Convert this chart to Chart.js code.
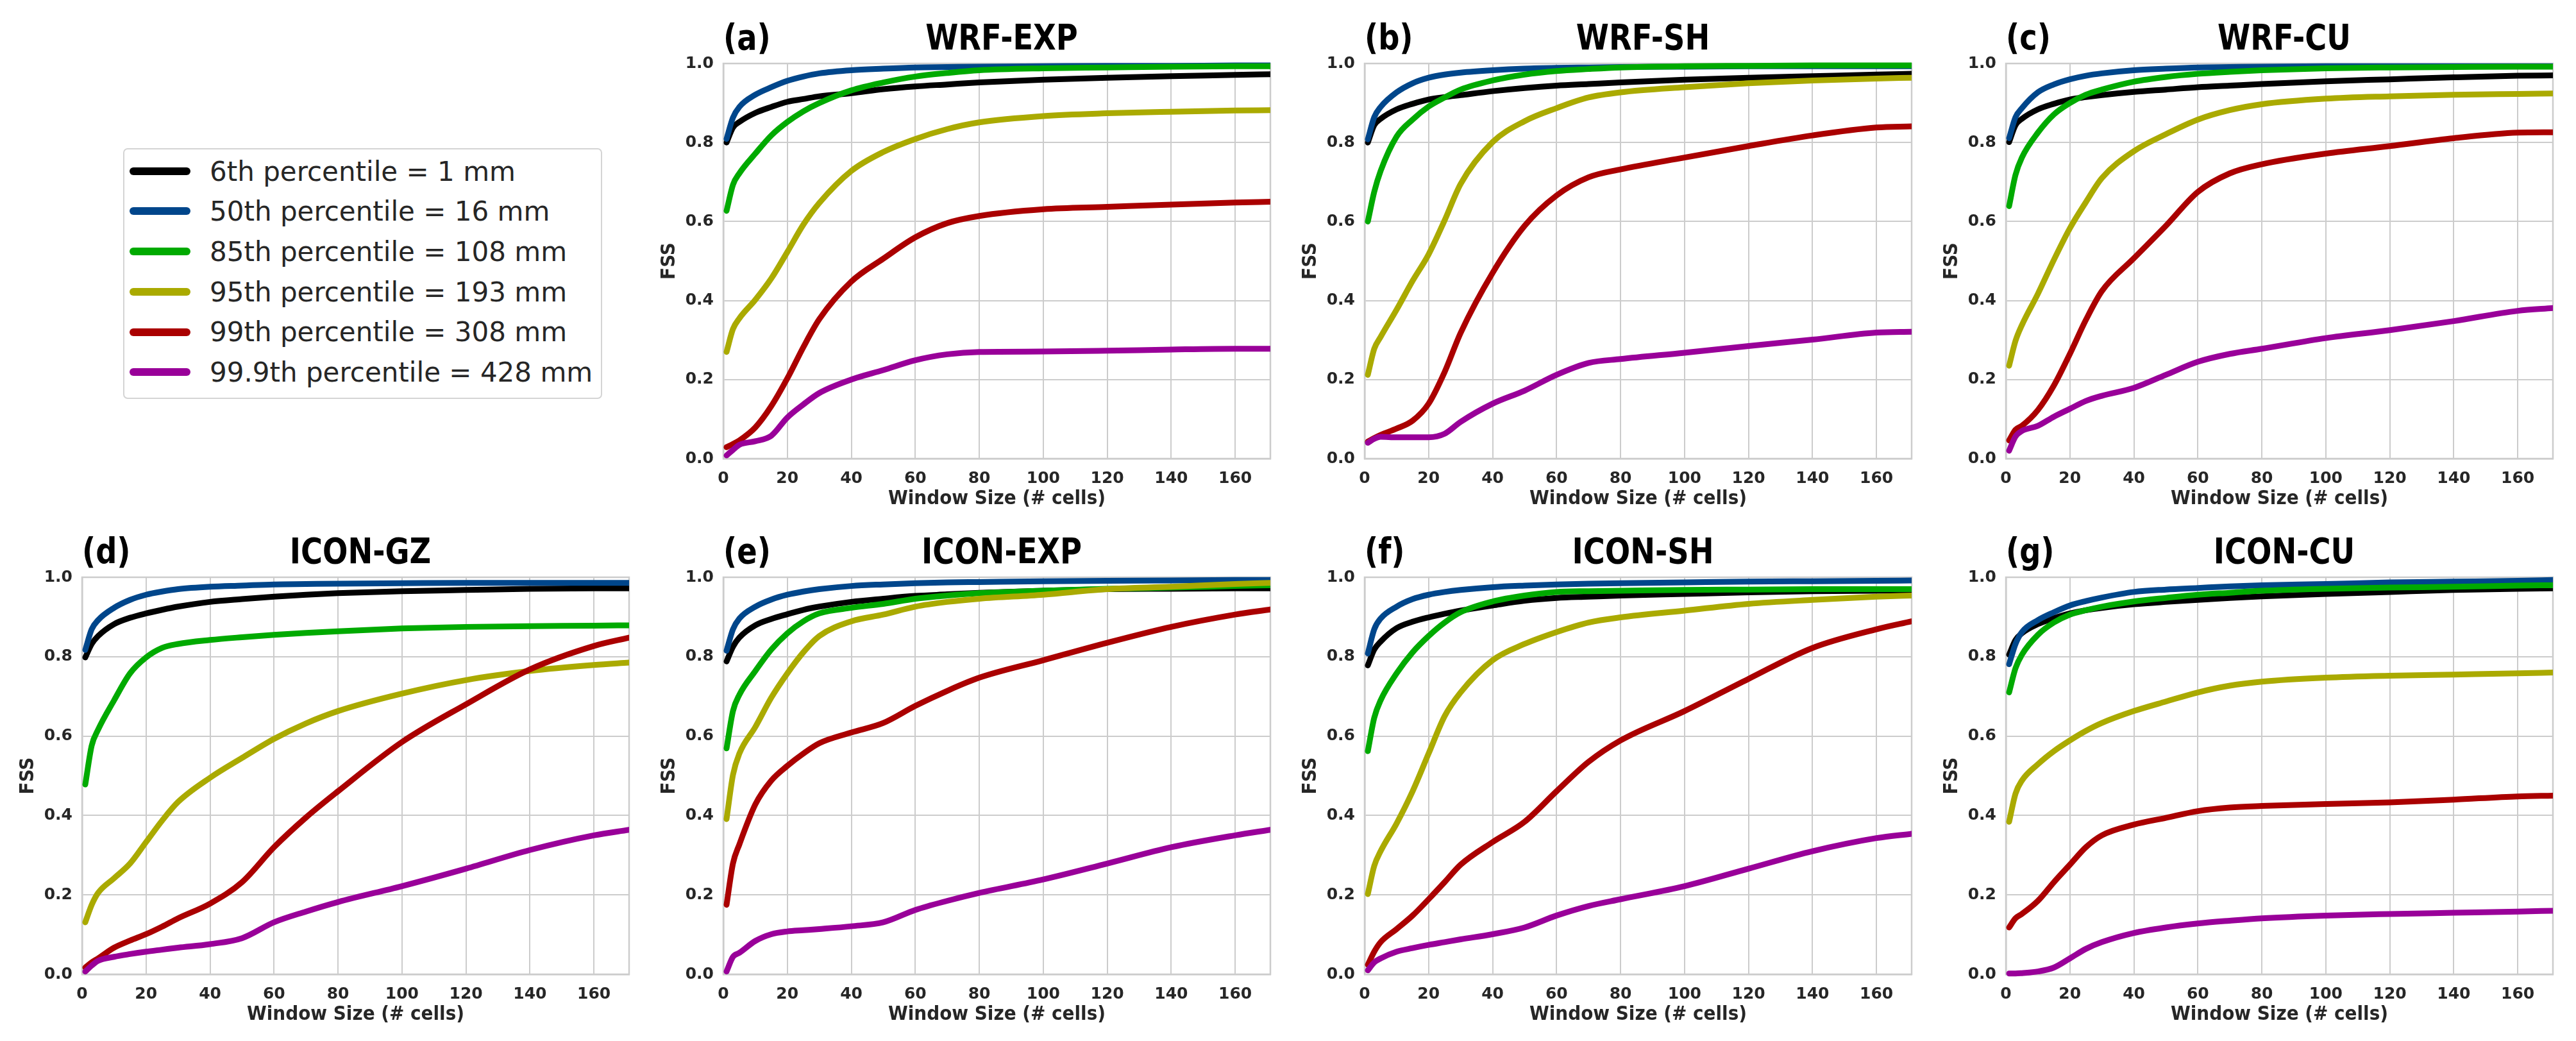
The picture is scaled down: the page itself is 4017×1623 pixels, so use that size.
<!DOCTYPE html>
<html>
<head>
<meta charset="utf-8">
<script src="https://cdn.jsdelivr.net/npm/chart.js@4.4.1/dist/chart.umd.min.js"></script>
<style>
    html, body { margin: 0; padding: 0; background: #ffffff; }
    body { width: 4017px; height: 1623px; position: relative; overflow: hidden; }
    canvas { position: absolute; }
    .letter, .title {
        position: absolute;
        font-family: 'DejaVu Sans Condensed', 'DejaVu Sans', sans-serif;
        font-weight: bold;
        font-size: 56px;
        line-height: 1;
        color: #000000;
        white-space: nowrap;
    }
    .letter { transform: scaleX(0.92); transform-origin: left top; }
    .title { transform: translateX(-50%) scaleX(0.92); }
    #legendBox {
        position: absolute;
        left: 192px; top: 231px; width: 747px; height: 391px;
        box-sizing: border-box;
        border: 2px solid #d4d4d4;
        border-radius: 7px;
    }
    .swatch { position: absolute; width: 95px; height: 12px; border-radius: 6px; }
    .entry {
        position: absolute;
        font-family: 'DejaVu Sans', sans-serif;
        font-size: 42px;
        line-height: 1;
        color: #262626;
        white-space: nowrap;
    }
</style>
</head>
<body>
<div id="legendBox"></div>
<script>
// x values (window size, # cells) shared by every curve
const windowSizes = [1, 3, 5, 10, 15, 20, 25, 30, 40, 50, 60, 70, 80, 100, 120, 140, 160, 171];

const xTickValues = [0, 20, 40, 60, 80, 100, 120, 140, 160];
const yTickValues = [0.0, 0.2, 0.4, 0.6, 0.8, 1.0];

const percentileLabels = [
    '6th percentile = 1 mm',
    '50th percentile = 16 mm',
    '85th percentile = 108 mm',
    '95th percentile = 193 mm',
    '99th percentile = 308 mm',
    '99.9th percentile = 428 mm'
];

const percentileColors = [
    '#000000', // Black
    '#00468b', // Blue
    '#00aa00', // Green
    '#aaaa00', // Olive
    '#aa0000', // Red
    '#990099'  // Purple
];

const panelLetters = ['(a)', '(b)', '(c)', '(d)', '(e)', '(f)', '(g)'];
const panelTitles = ['WRF-EXP', 'WRF-SH', 'WRF-CU', 'ICON-GZ', 'ICON-EXP', 'ICON-SH', 'ICON-CU'];

// FSS per panel, one row per percentile (same order as percentileLabels)
const fssWrfExp = [
    [0.800, 0.838, 0.852, 0.875, 0.890, 0.903, 0.910, 0.917, 0.925, 0.935, 0.942, 0.947, 0.952, 0.959, 0.964, 0.968, 0.971, 0.973],
    [0.809, 0.863, 0.890, 0.921, 0.940, 0.956, 0.967, 0.975, 0.983, 0.987, 0.990, 0.991, 0.992, 0.993, 0.994, 0.994, 0.995, 0.995],
    [0.627, 0.693, 0.722, 0.772, 0.818, 0.852, 0.879, 0.900, 0.932, 0.952, 0.967, 0.976, 0.983, 0.988, 0.990, 0.992, 0.993, 0.993],
    [0.270, 0.328, 0.355, 0.402, 0.456, 0.523, 0.592, 0.647, 0.728, 0.776, 0.809, 0.834, 0.851, 0.867, 0.874, 0.878, 0.881, 0.882],
    [0.029, 0.037, 0.046, 0.079, 0.133, 0.203, 0.282, 0.353, 0.448, 0.506, 0.560, 0.596, 0.614, 0.631, 0.637, 0.643, 0.648, 0.650],
    [0.008, 0.022, 0.035, 0.044, 0.058, 0.104, 0.137, 0.166, 0.200, 0.224, 0.249, 0.264, 0.270, 0.271, 0.273, 0.276, 0.278, 0.278]
];

const fssWrfSh = [
    [0.800, 0.844, 0.860, 0.884, 0.898, 0.909, 0.915, 0.920, 0.930, 0.938, 0.944, 0.948, 0.952, 0.959, 0.964, 0.968, 0.972, 0.974],
    [0.808, 0.864, 0.890, 0.927, 0.950, 0.964, 0.972, 0.977, 0.983, 0.987, 0.989, 0.990, 0.991, 0.992, 0.993, 0.993, 0.993, 0.993],
    [0.600, 0.675, 0.728, 0.815, 0.858, 0.891, 0.914, 0.934, 0.957, 0.972, 0.981, 0.986, 0.990, 0.993, 0.994, 0.995, 0.995, 0.995],
    [0.212, 0.278, 0.308, 0.377, 0.450, 0.517, 0.603, 0.695, 0.801, 0.854, 0.887, 0.914, 0.927, 0.940, 0.950, 0.957, 0.962, 0.964],
    [0.043, 0.052, 0.060, 0.076, 0.096, 0.139, 0.219, 0.318, 0.470, 0.589, 0.666, 0.712, 0.732, 0.762, 0.791, 0.818, 0.838, 0.841],
    [0.040, 0.050, 0.055, 0.054, 0.054, 0.054, 0.063, 0.093, 0.139, 0.172, 0.212, 0.242, 0.252, 0.268, 0.285, 0.301, 0.319, 0.321]
];

const fssWrfCu = [
    [0.801, 0.844, 0.860, 0.884, 0.898, 0.909, 0.915, 0.920, 0.928, 0.934, 0.940, 0.944, 0.948, 0.955, 0.960, 0.965, 0.969, 0.970],
    [0.811, 0.864, 0.887, 0.927, 0.947, 0.960, 0.969, 0.975, 0.983, 0.987, 0.990, 0.991, 0.992, 0.993, 0.993, 0.993, 0.993, 0.993],
    [0.639, 0.718, 0.762, 0.825, 0.871, 0.900, 0.921, 0.934, 0.954, 0.966, 0.974, 0.979, 0.983, 0.988, 0.990, 0.991, 0.992, 0.992],
    [0.235, 0.298, 0.338, 0.417, 0.503, 0.583, 0.649, 0.710, 0.778, 0.821, 0.858, 0.882, 0.897, 0.911, 0.917, 0.921, 0.923, 0.924],
    [0.046, 0.073, 0.083, 0.123, 0.185, 0.265, 0.351, 0.424, 0.507, 0.589, 0.675, 0.722, 0.745, 0.772, 0.791, 0.811, 0.825, 0.826],
    [0.020, 0.056, 0.070, 0.083, 0.106, 0.126, 0.146, 0.159, 0.179, 0.212, 0.245, 0.265, 0.278, 0.305, 0.325, 0.348, 0.374, 0.381]
];

const fssIconGz = [
    [0.798, 0.832, 0.852, 0.882, 0.898, 0.909, 0.918, 0.926, 0.938, 0.945, 0.951, 0.956, 0.960, 0.965, 0.968, 0.971, 0.972, 0.972],
    [0.817, 0.869, 0.892, 0.923, 0.943, 0.956, 0.964, 0.970, 0.976, 0.979, 0.982, 0.983, 0.984, 0.985, 0.986, 0.986, 0.986, 0.986],
    [0.478, 0.576, 0.616, 0.690, 0.758, 0.798, 0.822, 0.832, 0.842, 0.849, 0.855, 0.860, 0.864, 0.871, 0.875, 0.877, 0.878, 0.879],
    [0.131, 0.175, 0.205, 0.242, 0.279, 0.333, 0.387, 0.434, 0.495, 0.545, 0.593, 0.632, 0.663, 0.707, 0.741, 0.764, 0.779, 0.785],
    [0.017, 0.030, 0.040, 0.067, 0.085, 0.101, 0.120, 0.141, 0.178, 0.232, 0.320, 0.395, 0.461, 0.585, 0.680, 0.768, 0.827, 0.848],
    [0.007, 0.022, 0.034, 0.044, 0.051, 0.057, 0.062, 0.067, 0.076, 0.091, 0.131, 0.158, 0.182, 0.222, 0.266, 0.313, 0.350, 0.364]
];

const fssIconExp = [
    [0.788, 0.825, 0.848, 0.879, 0.895, 0.907, 0.918, 0.926, 0.938, 0.946, 0.953, 0.957, 0.961, 0.966, 0.970, 0.971, 0.972, 0.972],
    [0.815, 0.869, 0.896, 0.926, 0.944, 0.956, 0.964, 0.970, 0.978, 0.982, 0.985, 0.987, 0.988, 0.990, 0.991, 0.992, 0.993, 0.993],
    [0.569, 0.663, 0.704, 0.764, 0.818, 0.859, 0.889, 0.909, 0.923, 0.933, 0.946, 0.954, 0.960, 0.966, 0.971, 0.974, 0.978, 0.980],
    [0.391, 0.502, 0.556, 0.623, 0.697, 0.758, 0.811, 0.852, 0.889, 0.906, 0.926, 0.938, 0.946, 0.956, 0.970, 0.976, 0.983, 0.986],
    [0.175, 0.279, 0.327, 0.428, 0.488, 0.525, 0.556, 0.582, 0.609, 0.633, 0.676, 0.714, 0.747, 0.791, 0.835, 0.875, 0.906, 0.919],
    [0.007, 0.044, 0.054, 0.084, 0.101, 0.108, 0.111, 0.114, 0.121, 0.131, 0.162, 0.185, 0.205, 0.239, 0.279, 0.320, 0.350, 0.364]
];

const fssIconSh = [
    [0.778, 0.818, 0.838, 0.872, 0.888, 0.899, 0.908, 0.916, 0.929, 0.941, 0.948, 0.951, 0.954, 0.958, 0.962, 0.965, 0.966, 0.966],
    [0.808, 0.869, 0.896, 0.926, 0.945, 0.956, 0.963, 0.968, 0.975, 0.979, 0.982, 0.984, 0.985, 0.987, 0.989, 0.990, 0.991, 0.992],
    [0.562, 0.646, 0.690, 0.758, 0.811, 0.852, 0.886, 0.912, 0.939, 0.954, 0.963, 0.965, 0.966, 0.968, 0.969, 0.970, 0.970, 0.970],
    [0.202, 0.273, 0.310, 0.380, 0.461, 0.556, 0.650, 0.710, 0.791, 0.832, 0.862, 0.886, 0.899, 0.916, 0.933, 0.943, 0.951, 0.954],
    [0.024, 0.057, 0.081, 0.114, 0.148, 0.189, 0.232, 0.276, 0.333, 0.384, 0.461, 0.535, 0.589, 0.663, 0.744, 0.822, 0.869, 0.889],
    [0.010, 0.030, 0.040, 0.057, 0.066, 0.074, 0.081, 0.088, 0.101, 0.118, 0.148, 0.172, 0.189, 0.222, 0.266, 0.310, 0.343, 0.354]
];

const fssIconCu = [
    [0.805, 0.842, 0.859, 0.882, 0.897, 0.909, 0.917, 0.923, 0.932, 0.938, 0.943, 0.948, 0.952, 0.958, 0.963, 0.968, 0.971, 0.972],
    [0.781, 0.832, 0.862, 0.892, 0.912, 0.929, 0.940, 0.949, 0.963, 0.969, 0.973, 0.977, 0.980, 0.983, 0.987, 0.989, 0.991, 0.993],
    [0.710, 0.771, 0.805, 0.855, 0.886, 0.906, 0.917, 0.926, 0.939, 0.948, 0.956, 0.961, 0.966, 0.971, 0.974, 0.976, 0.979, 0.980],
    [0.384, 0.455, 0.488, 0.529, 0.562, 0.589, 0.613, 0.633, 0.663, 0.687, 0.710, 0.727, 0.737, 0.747, 0.752, 0.755, 0.758, 0.760],
    [0.118, 0.141, 0.152, 0.185, 0.232, 0.276, 0.320, 0.350, 0.377, 0.394, 0.411, 0.420, 0.424, 0.429, 0.433, 0.440, 0.448, 0.450],
    [0.002, 0.002, 0.003, 0.007, 0.017, 0.040, 0.064, 0.081, 0.104, 0.118, 0.128, 0.135, 0.141, 0.148, 0.152, 0.155, 0.158, 0.160]
];

const panelValues = [fssWrfExp, fssWrfSh, fssWrfCu, fssIconGz, fssIconExp, fssIconSh, fssIconCu];

// Plot-area placement of each panel on the page (left, top, height); width is shared
const plotWidth = 853;
const panelBoxes = [
    [1128, 99, 616], [2128, 99, 616], [3128, 99, 616],
    [128, 900, 619], [1128, 900, 619], [2128, 900, 619], [3128, 900, 619]
];

const yAxisWidth = 120;
const xAxisHeight = 85;
const padTop = 15;
const padRight = 25;

const tickFont = { family: "'DejaVu Sans', sans-serif", size: 25, weight: 'bold' };
const labelFont = { family: "'DejaVu Sans Condensed', 'DejaVu Sans', sans-serif", size: 31, weight: 'bold' };

/* Draws the light grey frame round the plot area (all four spines)
*/
const axesFrame = {
    id: 'axesFrame',
    beforeDatasetsDraw(chart) {
        const { ctx, chartArea } = chart;
        ctx.save();
        ctx.strokeStyle = '#cccccc';
        ctx.lineWidth = 2.5;
        ctx.strokeRect(chartArea.left, chartArea.top, chartArea.right - chartArea.left, chartArea.bottom - chartArea.top);
        ctx.restore();
    }
};

/* Builds the shared legend in the empty top-left slot
*/
const buildLegend = () => {
    percentileLabels.forEach((label, i) => {
        const centerY = 266.7 + i * 62.7;

        let swatch = document.createElement('div');
        swatch.className = 'swatch';
        swatch.style.left = '202px';
        swatch.style.top = (centerY - 6) + 'px';
        swatch.style.background = percentileColors[i];
        document.body.appendChild(swatch);

        let text = document.createElement('div');
        text.className = 'entry';
        text.style.left = '327px';
        text.style.top = (centerY - 20.2) + 'px';
        text.textContent = label;
        document.body.appendChild(text);
    });
};

/* Resizes / moves a chart so its plot area lands on the wanted box
*/
const fitPlotArea = (chart, canvas, plotLeft, plotTop, plotHeight) => {
    for (let pass = 0; pass < 3; pass++) {
        const area = chart.chartArea;
        const newWidth = chart.width + (plotWidth - (area.right - area.left));
        const newHeight = chart.height + (plotHeight - (area.bottom - area.top));
        if (newWidth === chart.width && newHeight === chart.height) break;
        chart.resize(newWidth, newHeight);
    }
    const area = chart.chartArea;
    canvas.style.left = (plotLeft - area.left) + 'px';
    canvas.style.top = (plotTop - area.top) + 'px';
};

/* Builds one FSS panel with its letter and title
*/
const buildPanel = (index) => {
    const [plotLeft, plotTop, plotHeight] = panelBoxes[index];
    const values = panelValues[index];

    // Letter and title above the plot
    let letter = document.createElement('div');
    letter.className = 'letter';
    letter.style.left = plotLeft + 'px';
    letter.style.top = (plotTop - 69) + 'px';
    letter.textContent = panelLetters[index];
    document.body.appendChild(letter);

    let title = document.createElement('div');
    title.className = 'title';
    title.style.left = (plotLeft + plotWidth / 2 + 7) + 'px';
    title.style.top = (plotTop - 69) + 'px';
    title.textContent = panelTitles[index];
    document.body.appendChild(title);

    let canvas = document.createElement('canvas');
    canvas.width = yAxisWidth + plotWidth + padRight;
    canvas.height = padTop + plotHeight + xAxisHeight;
    canvas.style.left = (plotLeft - yAxisWidth) + 'px';
    canvas.style.top = (plotTop - padTop) + 'px';
    document.body.appendChild(canvas);

    const datasets = values.map((series, i) => ({
        label: percentileLabels[i],
        data: windowSizes.map((w, k) => ({ x: w, y: series[k] })),
        borderColor: percentileColors[i],
        backgroundColor: percentileColors[i],
        borderWidth: 9,
        borderCapStyle: 'round',
        borderJoinStyle: 'round',
        pointRadius: 0,
        cubicInterpolationMode: 'monotone',
        fill: false,
        order: values.length - i, // later percentiles drawn on top
        clip: { left: 8, top: 8, right: 0, bottom: 8 }
    }));

    const config = {
        type: 'line',
        data: { datasets: datasets },
        options: {
            responsive: false,
            maintainAspectRatio: false,
            animation: false,
            devicePixelRatio: 1,
            events: [],
            layout: { padding: { left: 0, top: padTop, right: padRight, bottom: 0 } },
            plugins: {
                legend: { display: false },
                tooltip: { enabled: false }
            },
            scales: {
                x: {
                    type: 'linear',
                    min: 0,
                    max: 171,
                    afterBuildTicks: (scale) => { scale.ticks = xTickValues.map(v => ({ value: v })); },
                    afterFit: (scale) => { scale.height = xAxisHeight; },
                    grid: { color: '#cccccc', lineWidth: 2, drawTicks: false },
                    border: { color: '#cccccc', width: 2.5 },
                    ticks: { color: '#262626', font: tickFont, padding: 16, maxRotation: 0, autoSkip: false },
                    title: {
                        display: true,
                        text: 'Window Size (# cells)',
                        color: '#262626',
                        font: labelFont,
                        padding: { top: 0, bottom: 3 }
                    }
                },
                y: {
                    type: 'linear',
                    min: 0,
                    max: 1,
                    afterBuildTicks: (scale) => { scale.ticks = yTickValues.map(v => ({ value: v })); },
                    afterFit: (scale) => { scale.width = yAxisWidth; },
                    grid: { color: '#cccccc', lineWidth: 2, drawTicks: false },
                    border: { color: '#cccccc', width: 2.5 },
                    ticks: { color: '#262626', font: tickFont, padding: 15, callback: (v) => Number(v).toFixed(1) },
                    title: {
                        display: true,
                        text: 'FSS',
                        color: '#262626',
                        font: labelFont,
                        padding: { top: 17, bottom: 0 }
                    }
                }
            }
        },
        plugins: [axesFrame]
    };

    const panelChart = new Chart(canvas.getContext('2d'), config);
    fitPlotArea(panelChart, canvas, plotLeft, plotTop, plotHeight);
};

/* Kicks off the legend and all seven panels
*/
const init = () => {
    buildLegend();
    panelTitles.forEach((t, i) => buildPanel(i));
};

document.addEventListener("DOMContentLoaded", () => {
    init();
});
</script>
</body>
</html>
